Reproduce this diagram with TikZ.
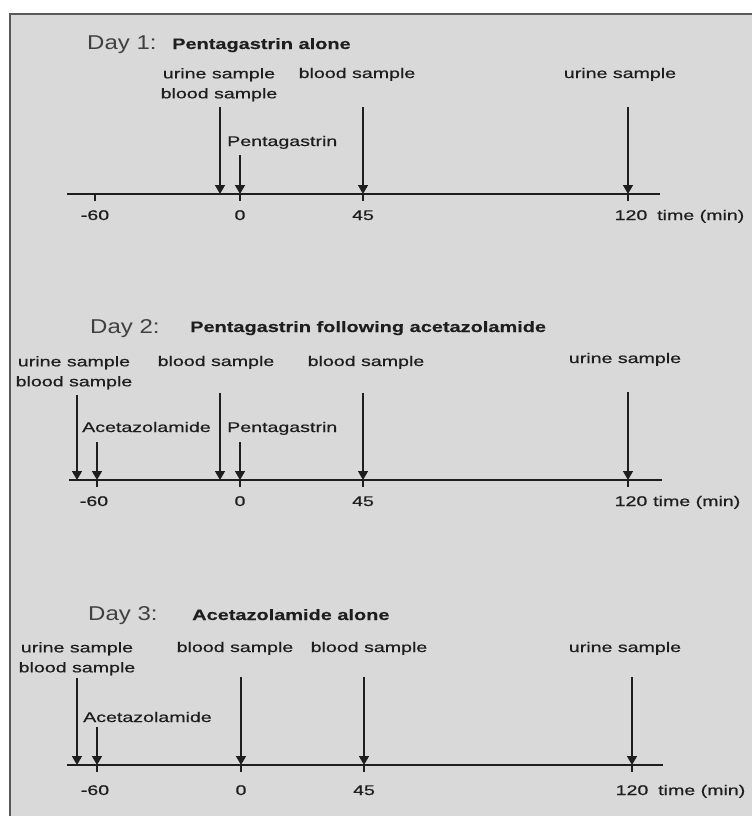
\documentclass[tikz,border=0pt]{standalone}
\usepackage{fontspec}
\setmainfont{Liberation Sans}
\newfontfamily\labfont[FakeStretch=1.4,FakeBold=0.6]{Liberation Sans}
\newfontfamily\ttlfont[FakeStretch=1.33,FakeBold=0.4]{Liberation Sans Bold}
\newfontfamily\dayfont[FakeStretch=1.2]{Liberation Sans}
\usetikzlibrary{arrows.meta}
\definecolor{bg}{HTML}{D9D9D9}
\definecolor{ink}{HTML}{1E1E1E}
\tikzset{
  x=1pt, y=-1pt,
  lab/.style={inner sep=0pt, text=ink, font=\labfont\fontsize{14}{20}\selectfont, align=center},
  ttl/.style={inner sep=0pt, text=ink, font=\ttlfont\fontsize{15}{18}\selectfont, anchor=base west},
  day/.style={inner sep=0pt, text=ink!85, font=\dayfont\fontsize{20}{24}\selectfont, anchor=base west},
  arr/.style={draw=ink, line width=1.5pt, -{Triangle[width=10pt,length=9pt]}},
  axisline/.style={draw=ink, line width=2.4pt},
  tickline/.style={draw=ink, line width=1.5pt},
}
\begin{document}
\begin{tikzpicture}
\useasboundingbox (0,0) rectangle (752,816);
\fill[white] (0,0) rectangle (752,816);
\fill[bg] (9,13) rectangle (752,816);
\draw[draw=black!65, line width=2.5pt] (10,816) -- (10,14) -- (752,14);

% ---------------- Day 1 ----------------
\node[day] (d1) at (87,49) {Day 1:};
\node[ttl] (t1) at (172,49) {Pentagastrin alone};
\node[lab, anchor=north] (d1ub) at (219,68) {urine sample\\blood sample};
\node[lab, anchor=base] (d1b) at (357,78) {blood sample};
\node[lab, anchor=base] (d1u) at (620,78) {urine sample};
\node[lab, anchor=base west] (d1p) at (227,146) {Pentagastrin};
\coordinate (d1L) at (67,194);
\coordinate (d1R) at (660,194);
\draw[axisline] (d1L) -- (d1R);
\foreach \n/\x/\s in {a/220/107, b/240/155, c/363/107, d/628/107}{
  \coordinate (d1\n s) at (\x,\s);
  \coordinate (d1\n e) at (\x,194);
  \draw[arr] (d1\n s) -- (d1\n e);
}
\foreach \n/\x in {m/95, z/240, f/363, h/628}{
  \coordinate (d1k\n) at (\x,194);
  \draw[tickline] (d1k\n) -- ++(0,7);
}
\node[lab, anchor=base] (d1n1) at (95,220) {-60};
\node[lab, anchor=base] (d1n2) at (240,220) {0};
\node[lab, anchor=base] (d1n3) at (363,220) {45};
\node[lab, anchor=base] (d1n4) at (631,220) {120};
\node[lab, anchor=base west] (d1tm) at (657,220) {time (min)};

% ---------------- Day 2 ----------------
\node[day] (d2) at (90,333) {Day 2:};
\node[ttl] (t2) at (190,332) {Pentagastrin following acetazolamide};
\node[lab, anchor=north] (d2ub) at (74,356) {urine sample\\blood sample};
\node[lab, anchor=base] (d2b1) at (216,366) {blood sample};
\node[lab, anchor=base] (d2b2) at (366,366) {blood sample};
\node[lab, anchor=base] (d2u) at (625,363) {urine sample};
\node[lab, anchor=base west] (d2a) at (82,432) {Acetazolamide};
\node[lab, anchor=base west] (d2p) at (227,432) {Pentagastrin};
\coordinate (d2L) at (69,480);
\coordinate (d2R) at (662,480);
\draw[axisline] (d2L) -- (d2R);
\foreach \n/\x/\s in {a/77/395, b/97/442, c/220/393, d/240/442, e/363/393, f/628/392}{
  \coordinate (d2\n s) at (\x,\s);
  \coordinate (d2\n e) at (\x,480);
  \draw[arr] (d2\n s) -- (d2\n e);
}
\foreach \n/\x in {m/97, z/240, f/363, h/628}{
  \coordinate (d2k\n) at (\x,480);
  \draw[tickline] (d2k\n) -- ++(0,7);
}
\node[lab, anchor=base] (d2n1) at (94,506) {-60};
\node[lab, anchor=base] (d2n2) at (240,506) {0};
\node[lab, anchor=base] (d2n3) at (363,506) {45};
\node[lab, anchor=base] (d2n4) at (631,506) {120};
\node[lab, anchor=base west] (d2tm) at (653,506) {time (min)};

% ---------------- Day 3 ----------------
\node[day] (d3) at (88,620) {Day 3:};
\node[ttl] (t3) at (192,620) {Acetazolamide alone};
\node[lab, anchor=north] (d3ub) at (77,642) {urine sample\\blood sample};
\node[lab, anchor=base] (d3b1) at (235,652) {blood sample};
\node[lab, anchor=base] (d3b2) at (369,652) {blood sample};
\node[lab, anchor=base] (d3u) at (625,652) {urine sample};
\node[lab, anchor=base west] (d3a) at (83,722) {Acetazolamide};
\coordinate (d3L) at (67,765);
\coordinate (d3R) at (663,765);
\draw[axisline] (d3L) -- (d3R);
\foreach \n/\x/\s in {a/77/678, b/97/727, c/241/677, d/364/677, e/632/677}{
  \coordinate (d3\n s) at (\x,\s);
  \coordinate (d3\n e) at (\x,765);
  \draw[arr] (d3\n s) -- (d3\n e);
}
\foreach \n/\x in {m/97, z/241, f/364, h/632}{
  \coordinate (d3k\n) at (\x,765);
  \draw[tickline] (d3k\n) -- ++(0,7);
}
\node[lab, anchor=base] (d3n1) at (95,795) {-60};
\node[lab, anchor=base] (d3n2) at (241,795) {0};
\node[lab, anchor=base] (d3n3) at (364,795) {45};
\node[lab, anchor=base] (d3n4) at (632,795) {120};
\node[lab, anchor=base west] (d3tm) at (658,795) {time (min)};
\end{tikzpicture}
\end{document}
